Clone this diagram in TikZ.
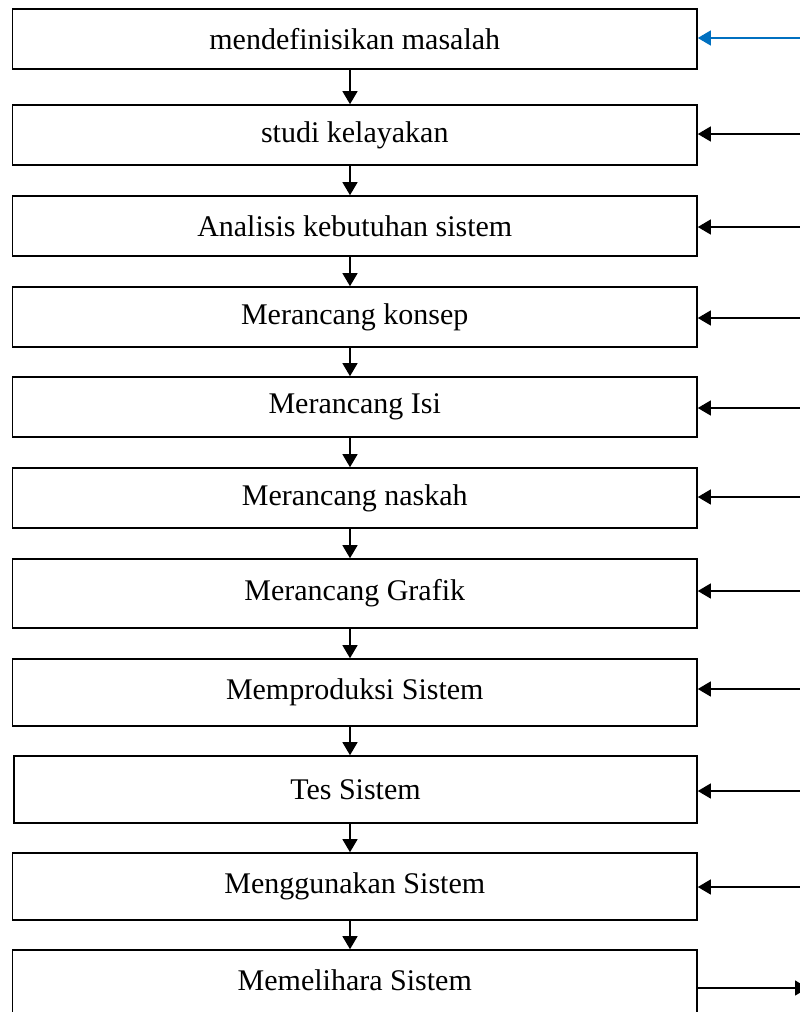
\documentclass[tikz,border=0pt]{standalone}
\usepackage{fontspec}
\setmainfont{Liberation Serif}
\usetikzlibrary{arrows.meta}
\definecolor{wordblue}{RGB}{0,112,192}
\tikzset{
  box/.style={draw=black, line width=1.6pt, fill=white, inner sep=0pt, font=\fontsize{30}{36}\selectfont},
  arr/.style={line width=1.3pt, -{Triangle[length=13pt,width=15pt]}},
}
\newcommand{\bx}[4]{% name, top, bottom, text
  \node[box, minimum width=684.5pt, minimum height={(#3-#2)*1pt}] (#1) at (354.75,{(#2+#3)/2}) {#4};}
\begin{document}
\begin{tikzpicture}[x=1pt,y=-1pt]
\useasboundingbox (0,0) rectangle (800,1012);
\bx{b1}{9}{69}{mendefinisikan masalah}
\bx{b2}{105}{165}{studi kelayakan}
\bx{b3}{196}{256}{Analisis kebutuhan sistem}
\bx{b4}{287}{347}{Merancang konsep}
\bx{b5}{377}{437}{Merancang Isi}
\bx{b6}{468}{528}{Merancang naskah}
\bx{b7}{559}{628}{Merancang Grafik}
\bx{b8}{659}{726}{Memproduksi Sistem}
\node[box, minimum width=683pt, minimum height=67pt] (b9) at (355.5,789.5) {Tes Sistem};
\bx{b10}{853}{920}{Menggunakan Sistem}
\node[box, minimum width=684.5pt, minimum height=70pt] (b11) at (354.75,985) {};
\node[font=\fontsize{30}{36}\selectfont] (t11) at (354.75,980) {Memelihara Sistem};
% down arrows
\coordinate (cx) at (350,0);
\foreach \a/\b in {b1/b2,b2/b3,b3/b4,b4/b5,b5/b6,b6/b7,b7/b8,b8/b9,b9/b10,b10/b11}
  \draw[arr] (cx |- \a.south) -- (cx |- \b.north);
% feedback arrows from the right
\coordinate (s1) at (801,38);
\draw[arr, draw=wordblue, fill=wordblue] (s1) -- (s1 -| b1.east);
\foreach \n/\y in {2/134,3/227,4/318,5/408,6/497,7/591,8/689,9/791,10/887} {
  \coordinate (s\n) at (801,\y);
  \draw[arr] (s\n) -- (s\n -| b\n.east);
}
\coordinate (e11) at (808,988);
\draw[arr] (b11.east |- e11) -- (e11);
\end{tikzpicture}
\end{document}
